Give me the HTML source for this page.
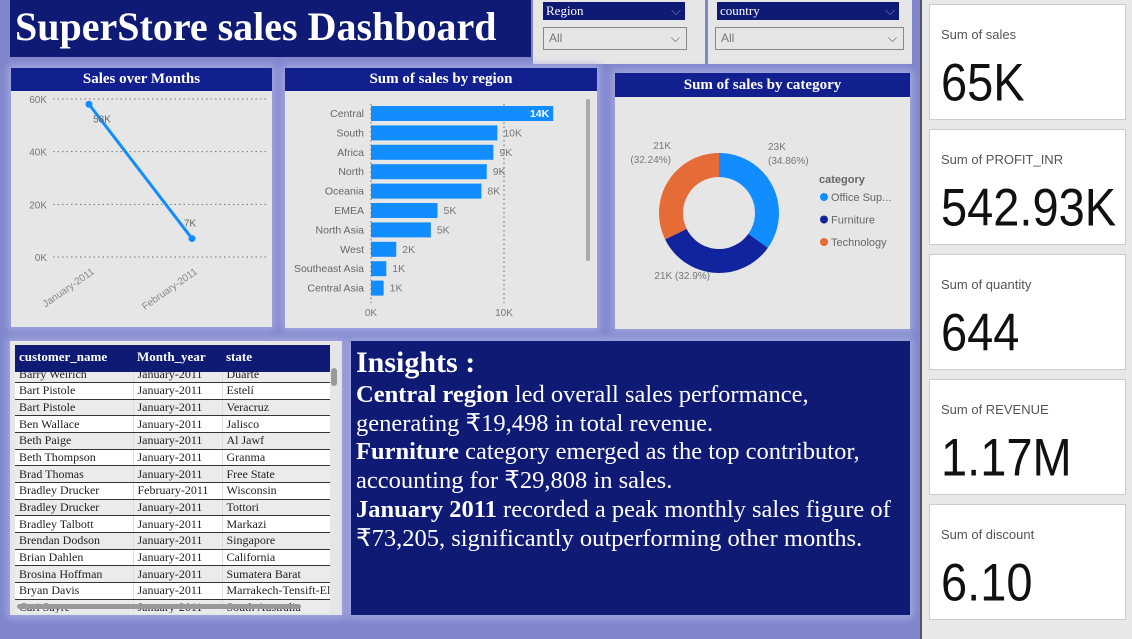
<!DOCTYPE html>
<html><head><meta charset="utf-8">
<style>
*{margin:0;padding:0;box-sizing:border-box}
body{width:1132px;height:639px;overflow:hidden;background:#7f86cc;font-family:"Liberation Sans",sans-serif;position:relative}
.abs{position:absolute}
.panel{position:absolute;background:#e6e6e6;box-shadow:0 0 8px 3px #a4aae0}
.hdr{position:absolute;left:0;right:0;top:0;background:#12208f;color:#fff;font-family:"Liberation Serif",serif;font-weight:bold;font-size:15px;text-align:center;line-height:23px}
.serif{font-family:"Liberation Serif",serif}
.card{position:absolute;left:929px;width:197px;height:116px;background:#fff;border:1px solid #ccc}
.card .l{position:absolute;left:11px;top:22px;font-size:13px;color:#555}
.card .v{position:absolute;left:11px;top:46px;font-size:47px;color:#111;transform:scaleY(1.12);transform-origin:left top}
table{border-collapse:collapse;font-family:"Liberation Serif",serif;font-size:12px}
td{height:16.67px;padding-left:4px;border-bottom:1px solid #333;white-space:nowrap;overflow:hidden;color:#222}
</style></head><body>
<div class="abs" style="left:10px;top:0;width:521px;height:57px;background:#0f1a75;color:#fff;font-family:'Liberation Serif',serif;font-weight:bold;font-size:40px;line-height:54px;padding-left:5px;white-space:nowrap">SuperStore sales Dashboard</div>

<div class="abs" style="left:533px;top:0;width:172px;height:64px;background:#e6e6e6">
 <div class="abs serif" style="left:10px;top:2px;width:142px;height:18px;background:#0f1a75;color:#fff;font-size:13px;padding-left:3px;line-height:18px">Region<span style="position:absolute;right:4px;color:#7a80c0">⌵</span></div>
 <div class="abs" style="left:10px;top:27px;width:144px;height:23px;border:1px solid #888;color:#777;font-size:12px;line-height:21px;padding-left:5px">All<span style="position:absolute;right:6px;color:#555">⌵</span></div>
</div>
<div class="abs" style="left:708px;top:0;width:204px;height:64px;background:#e6e6e6">
 <div class="abs serif" style="left:9px;top:2px;width:182px;height:18px;background:#0f1a75;color:#fff;font-size:13px;padding-left:3px;line-height:18px">country<span style="position:absolute;right:4px;color:#7a80c0">⌵</span></div>
 <div class="abs" style="left:7px;top:27px;width:189px;height:23px;border:1px solid #888;color:#777;font-size:12px;line-height:21px;padding-left:5px">All<span style="position:absolute;right:6px;color:#555">⌵</span></div>
</div>

<div class="panel" style="left:11px;top:68px;width:261px;height:259px">
 <div class="hdr">Sales over Months</div>
 <svg id="line" class="abs" style="left:0;top:0" width="261" height="259"></svg>
</div>

<div class="panel" style="left:285px;top:68px;width:312px;height:260px">
 <div class="hdr">Sum of sales by region</div>
 <svg id="bar" class="abs" style="left:0;top:0" width="312" height="260"></svg>
</div>

<div class="panel" style="left:615px;top:73px;width:295px;height:256px">
 <div class="hdr" style="height:24px;line-height:24px">Sum of sales by category</div>
 <svg id="donut" class="abs" style="left:0;top:0" width="295" height="256"></svg>
</div>

<div class="panel" style="left:10px;top:341px;width:332px;height:274px;overflow:hidden">
 <div class="abs" style="left:5px;top:4px;width:315px;height:268px;overflow:hidden;background:#fff">
  <div class="abs" id="rows" style="left:0;top:21px;width:315px"></div>
  <div class="abs serif" style="left:0;top:0;width:315px;height:27px;background:#0f1a75;color:#fff;font-weight:bold;font-size:13px;line-height:24px">
   <span class="abs" style="left:4px">customer_name</span><span class="abs" style="left:122px">Month_year</span><span class="abs" style="left:211px">state</span>
  </div>
 </div>
 <div class="abs" style="left:321px;top:27px;width:6px;height:18px;background:#999;border-radius:3px"></div>
 <div class="abs" style="left:7px;top:263px;width:284px;height:5px;background:#999;border-radius:3px"></div>
</div>

<div class="abs serif" style="left:351px;top:341px;width:559px;height:274px;background:#0f1a75;color:#fff;font-size:24.5px;line-height:28.7px;padding:4px 0 0 5px;box-shadow:0 0 8px 3px #a4aae0;white-space:nowrap;overflow:hidden">
 <div style="font-weight:bold;font-size:30px;line-height:36px">Insights :</div>
 <div><b>Central region</b> led overall sales performance,<br>generating ₹19,498 in total revenue.<br><b>Furniture</b> category emerged as the top contributor,<br>accounting for ₹29,808 in sales.<br><b>January 2011</b> recorded a peak monthly sales figure of<br>₹73,205, significantly outperforming other months.</div>
</div>

<div class="abs" style="left:920px;top:0;width:212px;height:639px;background:#e8e8e8;border-left:2px solid #555"></div>
<div class="card" style="top:4px"><div class="l">Sum of sales</div><div class="v">65K</div></div>
<div class="card" style="top:129px"><div class="l">Sum of PROFIT_INR</div><div class="v">542.93K</div></div>
<div class="card" style="top:254px"><div class="l">Sum of quantity</div><div class="v">644</div></div>
<div class="card" style="top:379px"><div class="l">Sum of REVENUE</div><div class="v">1.17M</div></div>
<div class="card" style="top:504px"><div class="l">Sum of discount</div><div class="v">6.10</div></div>

<script>
// ---- line chart data
const months = ["January-2011","February-2011"];
const monthSales = [58000, 7000];
const monthLabels = ["58K","7K"];
const yTicks = [0,20000,40000,60000];
const yTickLabels = ["0K","20K","40K","60K"];
// ---- bar chart data
const regions = ["Central","South","Africa","North","Oceania","EMEA","North Asia","West","Southeast Asia","Central Asia"];
const regionSales = [13.7,9.5,9.2,8.7,8.3,5.0,4.5,1.9,1.15,0.95];
const regionLabels = ["14K","10K","9K","9K","8K","5K","5K","2K","1K","1K"];
const xTicks = [0,10];
const xTickLabels = ["0K","10K"];
// ---- donut data
const categories = ["Office Sup...","Furniture","Technology"];
const catShares = [34.86,32.9,32.24];
const catLabels = ["23K (34.86%)","21K (32.9%)","21K (32.24%)"];
const catColors = ["#118dff","#12239e","#e66c37"];

const NS="http://www.w3.org/2000/svg";
function mk(svg,tag,attrs,text){const e=document.createElementNS(NS,tag);for(const k in attrs)e.setAttribute(k,attrs[k]);if(text!==undefined)e.textContent=text;svg.appendChild(e);return e;}

// line chart
(function(){
 const svg=document.getElementById('line');
 const y=v=>189-158*v/60000, x=i=>78+i*103;
 yTicks.forEach((t,i)=>{
  const g=mk(svg,'line',{x1:42,x2:255,y1:y(t),y2:y(t),stroke:'#777','stroke-dasharray':'1.5,3'});
  
  const l=mk(svg,'text',{x:36,y:y(t)+4,'text-anchor':'end','font-size':10,fill:'#777'},yTickLabels[i]);
  
 });
 const pl=mk(svg,'polyline',{points:monthSales.map((v,i)=>x(i)+','+y(v)).join(' '),fill:'none',stroke:'#118dff','stroke-width':3});
 
 monthSales.forEach((v,i)=>{
  const c=mk(svg,'circle',{cx:x(i),cy:y(v),r:3.5,fill:'#118dff'});
  
  const lb=mk(svg,'text',{x:x(i)+(i?-2:13),y:y(v)+(i?-12:18),'text-anchor':'middle','font-size':10,fill:'#666'},monthLabels[i]);
  
  const xl=mk(svg,'text',{x:x(i)+6,y:205,'text-anchor':'end','font-size':10,fill:'#888',transform:'rotate(-35 '+(x(i)+6)+' 205)'},months[i]);
  
 });
})();

// bar chart
(function(){
 const svg=document.getElementById('bar');
 const x=v=>86+13.3*v, y=i=>45+i*19.4;
 xTicks.forEach((t,i)=>{
  const g=mk(svg,'line',{x1:x(t),x2:x(t),y1:36,y2:235,stroke:'#666','stroke-dasharray':'1.5,3'});
  
  const l=mk(svg,'text',{x:x(t),y:248,'text-anchor':'middle','font-size':10,fill:'#777'},xTickLabels[i]);
  
 });
 regions.forEach((r,i)=>{
  const b=mk(svg,'rect',{x:x(0),y:y(i)-7,width:x(regionSales[i])-x(0),height:15,fill:'#118dff'});
  
  const c=mk(svg,'text',{x:x(0)-7,y:y(i)+4,'text-anchor':'end','font-size':10.5,fill:'#666'},r);
  
  const inside=i===0;
  const v=mk(svg,'text',{x:inside?x(regionSales[i])-4:x(regionSales[i])+6,y:y(i)+4,'text-anchor':inside?'end':'start','font-size':10.5,fill:inside?'#fff':'#777','font-weight':inside?'bold':'normal'},regionLabels[i]);
  
 });
 const sb=mk(svg,'rect',{x:301,y:31,width:4,height:162,rx:2,fill:'#aaa'});
 
})();

// donut
(function(){
 const svg=document.getElementById('donut');
 const cx=104,cy=140,R=60,r=36;
 let a=-Math.PI/2;
 const total=catShares.reduce((s,v)=>s+v,0);
 catShares.forEach((v,i)=>{
  const a2=a+2*Math.PI*v/total;
  const p=(ang,rad)=>(cx+rad*Math.cos(ang)).toFixed(2)+','+(cy+rad*Math.sin(ang)).toFixed(2);
  const lg=(a2-a)>Math.PI?1:0;
  const s=mk(svg,'path',{d:`M${p(a,R)}A${R},${R} 0 ${lg} 1 ${p(a2,R)}L${p(a2,r)}A${r},${r} 0 ${lg} 0 ${p(a,r)}Z`,fill:catColors[i]});
  
  a=a2;
 });
 const lbl=[[153,77,'start'],[95,206,'end'],[56,76,'end']];
 catLabels.forEach((t,i)=>{
  const parts=t.split(' ');
  const x=lbl[i][0],y=lbl[i][1],anc=lbl[i][2];
  if(i===1){const e=mk(svg,'text',{x:x,y:y,'text-anchor':anc,'font-size':10,fill:'#777'},t);}
  else{
   const e=mk(svg,'text',{x:x,y:y,'text-anchor':anc,'font-size':10,fill:'#777'},parts[0]);
   
   const f=mk(svg,'text',{x:x,y:y+14,'text-anchor':anc,'font-size':10,fill:'#777'},parts[1]);
   
  }
 });
 const lt=mk(svg,'text',{x:204,y:110,'font-size':11,'font-weight':'bold',fill:'#666'},'category');
 
 categories.forEach((c,i)=>{
  const y=124+i*22.5;
  const d=mk(svg,'circle',{cx:209,cy:y,r:4,fill:catColors[i]});
  
  const t=mk(svg,'text',{x:216,y:y+4,'font-size':11,fill:'#666'},c);
  
 });
})();

// table rows
const rowsData=[["Barry Weirich","January-2011","Duarte"],["Bart Pistole","January-2011","Estelí"],["Bart Pistole","January-2011","Veracruz"],["Ben Wallace","January-2011","Jalisco"],["Beth Paige","January-2011","Al Jawf"],["Beth Thompson","January-2011","Granma"],["Brad Thomas","January-2011","Free State"],["Bradley Drucker","February-2011","Wisconsin"],["Bradley Drucker","January-2011","Tottori"],["Bradley Talbott","January-2011","Markazi"],["Brendan Dodson","January-2011","Singapore"],["Brian Dahlen","January-2011","California"],["Brosina Hoffman","January-2011","Sumatera Barat"],["Bryan Davis","January-2011","Marrakech-Tensift-El"],["Cari Sayre","January-2011","South Australia"]];
(function(){
 const host=document.getElementById('rows');
 const t=document.createElement('table');
 
 
 t.style.width='315px';t.style.tableLayout='fixed';
 rowsData.forEach((r,i)=>{
  const tr=document.createElement('tr');
  
  
  tr.style.background=i%2?'#fff':'#ebebeb';
  r.forEach((c,j)=>{const td=document.createElement('td');td.textContent=c;td.style.width=[118,89,108][j]+'px';if(j>0)td.style.borderLeft='1px solid #ddd';tr.appendChild(td);});
  t.appendChild(tr);
 });
 host.appendChild(t);
})();
</script>
</body></html>
